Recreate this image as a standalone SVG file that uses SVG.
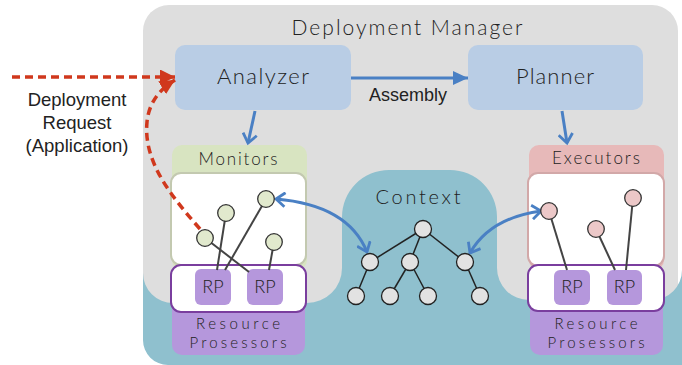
<svg xmlns="http://www.w3.org/2000/svg" width="682" height="365" viewBox="0 0 682 365">
<style>
.geo{font-family:Lato,"DejaVu Sans",sans-serif;font-weight:300;fill:#222;}
.hel{font-family:"Liberation Sans",Arial,sans-serif;fill:#222;}
.box{fill:#b9cde5;}
.edge{stroke:#444;stroke-width:2;fill:none;}
.mn{fill:#e1e9cd;stroke:#333;stroke-width:1.3;}
.en{fill:#ecc8c8;stroke:#333;stroke-width:1.3;}
.cn{fill:#e2e2e2;stroke:#222;stroke-width:1.3;}
.rp{fill:#b597dc;}
.blue{stroke:#4a80c4;stroke-width:3;fill:none;}
.red{stroke:#d0381d;stroke-width:3.5;fill:none;stroke-dasharray:8 5;}
</style>
<defs>
<marker id="tri" markerUnits="userSpaceOnUse" markerWidth="16" markerHeight="14" refX="15" refY="7" orient="auto"><path d="M0,0 L15,7 L0,14 z" fill="#4a80c4"/></marker>
<marker id="chev" markerUnits="userSpaceOnUse" markerWidth="14" markerHeight="16" refX="11" refY="8" orient="auto-start-reverse"><path d="M2,1 L11,8 L2,15" fill="none" stroke="#4a80c4" stroke-width="2.8"/></marker>
<marker id="redtri" markerUnits="userSpaceOnUse" markerWidth="16" markerHeight="15" refX="15" refY="7.5" orient="auto"><path d="M0,0 L15,7.5 L0,15 z" fill="#d0381d"/></marker>
</defs>
<g id="background">
<rect x="143" y="5" width="535" height="357" rx="26" fill="#dedede"/>
<path d="M143 273 A30 30 0 0 0 173 303 L307 303 A35 35 0 0 0 342 268 L342 217 A47 47 0 0 1 389 170 L450 170 A47 47 0 0 1 497 217 L497 268 A32 32 0 0 0 529 300 L652 300 A30 30 0 0 0 682 270 L682 365 L168 365 A25 25 0 0 1 143 340 Z" fill="#8fc0ce"/>
<text class="geo" x="407" y="35" font-size="21" text-anchor="middle" textLength="231" lengthAdjust="spacing">Deployment Manager</text>
</g>
<g id="analyzer">
<rect class="box" x="175" y="45" width="176" height="65" rx="10"/>
<text class="geo" x="263" y="84" font-size="22" text-anchor="middle" textLength="92" lengthAdjust="spacing">Analyzer</text>
</g>
<g id="planner">
<rect class="box" x="468" y="45" width="175" height="65" rx="10"/>
<text class="geo" x="555" y="84" font-size="22" text-anchor="middle" textLength="78" lengthAdjust="spacing">Planner</text>
</g>
<g id="monitors">
<rect x="172" y="145" width="135" height="125" rx="10" fill="#d8e4c1"/>
<text class="geo" x="238" y="165" font-size="17" text-anchor="middle" textLength="79" lengthAdjust="spacing">Monitors</text>
<rect x="171" y="173" width="135" height="92" rx="10" fill="#fff" stroke="#c3c9b0" stroke-width="2"/>
</g>
<g id="monitors-rp">
<rect x="172" y="280" width="133" height="75" rx="10" fill="#b597dc"/>
<rect x="171" y="265" width="135" height="47" rx="10" fill="#fff" stroke="#7a3e9e" stroke-width="2"/>
<text class="geo" x="238" y="329" font-size="15" text-anchor="middle" textLength="84" lengthAdjust="spacing">Resource</text>
<text class="geo" x="238" y="347.5" font-size="15" text-anchor="middle" textLength="97" lengthAdjust="spacing">Prosessors</text>
<rect class="rp" x="195" y="269" width="36" height="36" rx="6"/>
<rect class="rp" x="247" y="269" width="36" height="36" rx="6"/>
<text class="geo" x="213" y="293" font-size="18" text-anchor="middle">RP</text>
<text class="geo" x="265" y="293" font-size="18" text-anchor="middle">RP</text>
</g>
<g id="executors">
<rect x="529" y="145" width="135" height="125" rx="10" fill="#e7b9b9"/>
<text class="geo" x="596" y="164" font-size="17" text-anchor="middle" textLength="88" lengthAdjust="spacing">Executors</text>
<rect x="528" y="173" width="136" height="93" rx="10" fill="#fff" stroke="#d2a8a8" stroke-width="2"/>
</g>
<g id="executors-rp">
<rect x="530" y="280" width="133" height="75" rx="10" fill="#b597dc"/>
<rect x="528" y="265" width="136" height="46" rx="10" fill="#fff" stroke="#7a3e9e" stroke-width="2"/>
<text class="geo" x="596" y="329" font-size="15" text-anchor="middle" textLength="83" lengthAdjust="spacing">Resource</text>
<text class="geo" x="596" y="347.5" font-size="15" text-anchor="middle" textLength="97" lengthAdjust="spacing">Prosessors</text>
<rect class="rp" x="554" y="270" width="36" height="35" rx="6"/>
<rect class="rp" x="607" y="270" width="35" height="35" rx="6"/>
<text class="geo" x="572" y="293" font-size="18" text-anchor="middle">RP</text>
<text class="geo" x="624.5" y="293" font-size="18" text-anchor="middle">RP</text>
</g>
<g id="context">
<text class="geo" x="418" y="204" font-size="20" text-anchor="middle" textLength="85" lengthAdjust="spacing">Context</text>
</g>
<g id="request-label">
<text class="hel" font-size="18.5" text-anchor="middle"><tspan x="77" y="106">Deployment</tspan><tspan x="77" y="129">Request</tspan><tspan x="77" y="152">(Application)</tspan></text>
</g>
<g id="connectors">
<line class="edge" x1="205" y1="238" x2="249" y2="272"/>
<line class="edge" x1="226" y1="213" x2="217" y2="270"/>
<line class="edge" x1="266" y1="199" x2="225" y2="270"/>
<line class="edge" x1="274" y1="242" x2="269" y2="270"/>
<line class="edge" x1="549" y1="211" x2="567" y2="270"/>
<line class="edge" x1="596" y1="229" x2="615" y2="270"/>
<line class="edge" x1="633" y1="198" x2="626" y2="270"/>
<g stroke="#222" stroke-width="1.5">
<line x1="423" y1="229" x2="370" y2="262"/>
<line x1="423" y1="229" x2="410" y2="262"/>
<line x1="423" y1="229" x2="465" y2="262"/>
<line x1="370" y1="262" x2="356" y2="296"/>
<line x1="410" y1="262" x2="390" y2="296"/>
<line x1="410" y1="262" x2="428" y2="296"/>
<line x1="465" y1="262" x2="480" y2="296"/>
</g>
<line class="blue" x1="351" y1="78" x2="468" y2="78" stroke-width="3.5" marker-end="url(#tri)"/>
<text class="hel" x="408" y="101" font-size="18" text-anchor="middle">Assembly</text>
<line class="blue" x1="255" y1="111" x2="248" y2="143" marker-end="url(#chev)"/>
<line class="blue" x1="562" y1="111" x2="567" y2="143" marker-end="url(#chev)"/>
<path class="blue" d="M276 199 Q348 205 367 252" marker-start="url(#chev)" marker-end="url(#chev)"/>
<path class="blue" d="M470 253 Q490 218 541 211" marker-start="url(#chev)" marker-end="url(#chev)"/>
<line class="red" x1="12" y1="77" x2="175" y2="77" marker-end="url(#redtri)"/>
<path class="red" d="M200 229 C172 197 143 162 147 122 C149 102 160 89 175 80" marker-end="url(#redtri)"/>
</g>
<g id="nodes">
<circle class="mn" cx="205" cy="238" r="8.3"/>
<circle class="mn" cx="226" cy="213" r="8.3"/>
<circle class="mn" cx="266" cy="199" r="8.3"/>
<circle class="mn" cx="274" cy="242" r="8.3"/>
<circle class="en" cx="549" cy="211" r="8.3"/>
<circle class="en" cx="596" cy="229" r="8.3"/>
<circle class="en" cx="633" cy="198" r="8.3"/>
<circle class="cn" cx="423" cy="229" r="8.5"/>
<circle class="cn" cx="370" cy="262" r="8.5"/>
<circle class="cn" cx="410" cy="262" r="8.5"/>
<circle class="cn" cx="465" cy="262" r="8.5"/>
<circle class="cn" cx="356" cy="296" r="8.5"/>
<circle class="cn" cx="390" cy="296" r="8.5"/>
<circle class="cn" cx="428" cy="296" r="8.5"/>
<circle class="cn" cx="480" cy="296" r="8.5"/>
</g>
</svg>
